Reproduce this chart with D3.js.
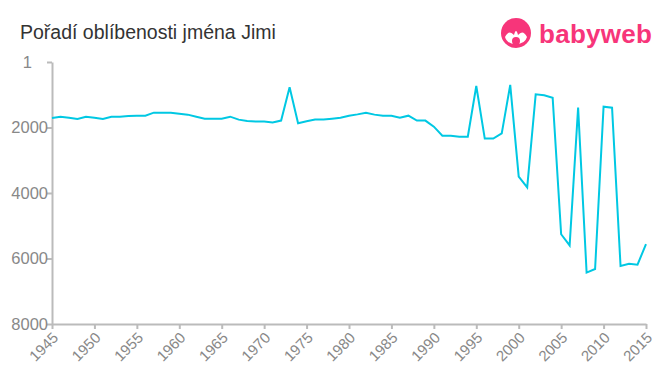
<!doctype html>
<html lang='en'>
<head>
<meta charset='UTF-8'>
<title>Pořadí oblíbenosti jména Jimi</title>
<style>
  body { margin: 0; background: #fff; }
  svg text { font-family: 'Liberation Sans', Arial, sans-serif; }
</style>
</head>
<body>
<script src='https://d3js.org/d3.v7.min.js'></script>
<script>
  const years = d3.range(1945, 2016)
  const ranks = [
    1710, 1670, 1700, 1740, 1670, 1700, 1740, 1670, 1670, 1650,
    1640, 1640, 1548, 1548, 1548, 1578, 1608, 1670, 1730, 1730,
    1730, 1670, 1760, 1800, 1820, 1820, 1850, 1790, 773, 1870,
    1810, 1760, 1760, 1730, 1700, 1640, 1600, 1548, 1608, 1640,
    1640, 1700, 1640, 1790, 1790, 1975, 2250, 2250, 2280, 2280,
    733, 2340, 2340, 2180, 702, 3500, 3830, 987, 1018, 1090,
    5260, 5600, 1395, 6430, 6320, 1365, 1395, 6230, 6160, 6190,
    5560
  ]
  const yTicks = [1, 2000, 4000, 6000, 8000]
  const xTicks = d3.range(1945, 2016, 5)

  const w = 660
  const h = 375
  const margin = { left: 52, right: 14, top: 62, bottom: 51 }

  const svg = d3.select('body')
    .append('svg')
    .attr('width', w)
    .attr('height', h)

  const x = d3.scaleLinear()
    .domain([1945, 2015])
    .range([margin.left, w - margin.right])

  const y = d3.scaleLinear()
    .domain([1, 8000])
    .range([margin.top, h - margin.bottom])

  // title
  svg.append('text')
    .attr('x', 20)
    .attr('y', 39)
    .attr('font-size', 19.5)
    .attr('fill', '#333')
    .text('Pořadí oblíbenosti jména Jimi')

  // logo
  const logo = svg.append('g').attr('transform', 'translate(516,33)')
  logo.append('circle').attr('r', 15).attr('fill', '#f7357a')
  logo.append('path')
    .attr('d', 'M-11,4 Q-7,-4 -2,2 Q0,-6 2,2 Q7,-4 11,4 Q9,11 0,11 Q-9,11 -11,4Z')
    .attr('fill', '#fff')
  logo.append('circle').attr('cy', 8).attr('r', 4).attr('fill', '#f7357a')
  svg.append('text')
    .attr('x', 539)
    .attr('y', 43)
    .attr('font-size', 26)
    .attr('font-weight', 600)
    .attr('fill', '#f7357a')
    .attr('font-family', '"Open Sans", sans-serif')
    .attr('textLength', 113)
    .text('babyweb')

  // y axis
  const yAxis = svg.append('g')
    .attr('transform', `translate(${margin.left},0)`)
    .call(d3.axisLeft(y).tickValues(yTicks).tickSize(5).tickSizeOuter(0).tickFormat(d3.format('d')))
  yAxis.select('.domain').attr('stroke', '#bbb').attr('stroke-width', 2)
  yAxis.selectAll('.tick line').attr('stroke', '#bbb').attr('stroke-width', 2)
  yAxis.selectAll('.tick text')
    .attr('font-size', 16.5)
    .attr('fill', '#888')
    .attr('x', d => d === 1 ? -20 : -4)

  // x axis
  const xAxis = svg.append('g')
    .attr('transform', `translate(0,${h - margin.bottom})`)
    .call(d3.axisBottom(x).tickValues(xTicks).tickSize(5).tickSizeOuter(0).tickFormat(d3.format('d')))
  xAxis.select('.domain').attr('stroke', '#bbb').attr('stroke-width', 2)
  xAxis.selectAll('.tick line').attr('stroke', '#bbb').attr('stroke-width', 2)
  xAxis.selectAll('.tick text')
    .attr('font-size', 15)
    .attr('fill', '#888')
    .attr('text-anchor', 'end')
    .attr('x', 0)
    .attr('y', 0)
    .attr('dx', 0)
    .attr('dy', '0.35em')
    .attr('transform', 'translate(3,11) rotate(-45)')

  // line
  const line = d3.line()
    .x((d, i) => x(years[i]))
    .y(d => y(d))

  svg.append('path')
    .datum(ranks)
    .attr('d', line)
    .attr('fill', 'none')
    .attr('stroke', '#00c8e3')
    .attr('stroke-width', 2)
</script>
</body>
</html>
